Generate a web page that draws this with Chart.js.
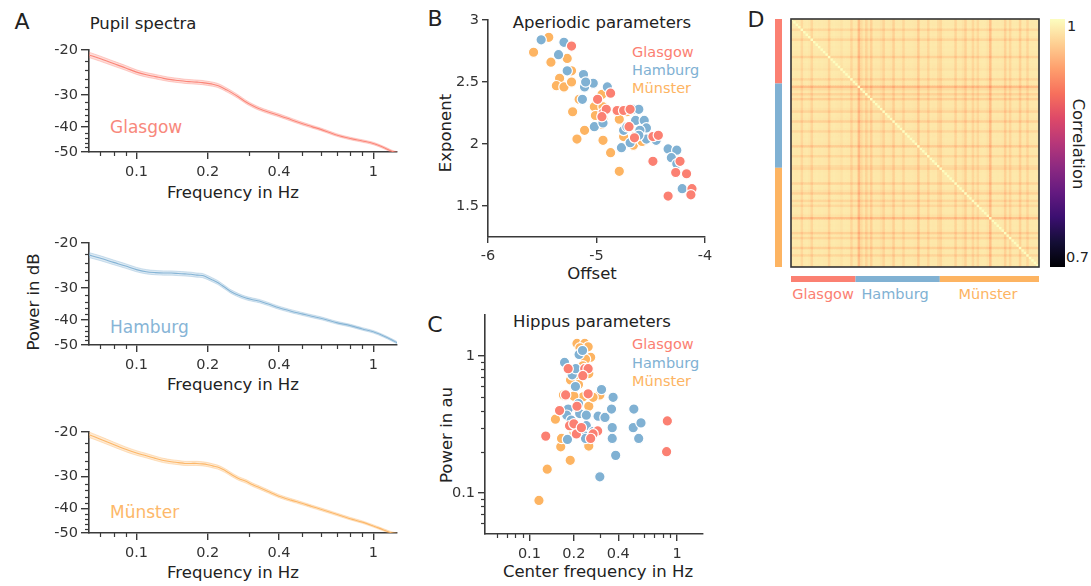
<!DOCTYPE html>
<html><head><meta charset="utf-8">
<script src="https://cdn.jsdelivr.net/npm/chart.js@4.4.1/dist/chart.umd.min.js"></script>
<style>
html,body{margin:0;padding:0;background:#fff;}
body{width:1091px;height:586px;position:relative;overflow:hidden;font-family:'DejaVu Sans',sans-serif;color:#222;}
.t{position:absolute;white-space:nowrap;transform:translate(-50%,-50%);line-height:1;}
.l{position:absolute;white-space:nowrap;transform:translate(0,-50%);line-height:1;}
.r1{position:absolute;white-space:nowrap;transform:translate(-50%,-50%) rotate(-90deg);line-height:1;}
.r2{position:absolute;white-space:nowrap;transform:translate(-50%,-50%) rotate(90deg);line-height:1;}
canvas{position:absolute;}
</style></head><body>

<div class="t" style="left:22px;top:22px;font-size:22px">A</div>
<div class="t" style="left:143px;top:24px;font-size:16.5px">Pupil spectra</div>
<div class="t" style="left:233px;top:193px;font-size:16.5px">Frequency in Hz</div>
<div class="t" style="left:233px;top:385px;font-size:16.5px">Frequency in Hz</div>
<div class="t" style="left:233px;top:573px;font-size:16.5px">Frequency in Hz</div>
<div class="r1" style="left:34px;top:302px;font-size:16.5px">Power in dB</div>
<div class="l" style="left:110px;top:127px;font-size:17px;color:#F8887C">Glasgow</div>
<div class="l" style="left:110px;top:327px;font-size:17px;color:#86B4D6">Hamburg</div>
<div class="l" style="left:110px;top:512px;font-size:17px;color:#FDB86A">Münster</div>

<div class="t" style="left:435px;top:19px;font-size:22px">B</div>
<div class="t" style="left:602px;top:23px;font-size:16.5px">Aperiodic parameters</div>
<div class="l" style="left:632px;top:52px;font-size:14.5px;color:#FB8072">Glasgow</div>
<div class="l" style="left:632px;top:70px;font-size:14.5px;color:#80B1D3">Hamburg</div>
<div class="l" style="left:632px;top:88px;font-size:14.5px;color:#FDB462">Münster</div>
<div class="r1" style="left:446px;top:133px;font-size:16.5px">Exponent</div>
<div class="t" style="left:592px;top:274px;font-size:16.5px">Offset</div>

<div class="t" style="left:435px;top:325px;font-size:22px">C</div>
<div class="t" style="left:592px;top:322px;font-size:16.5px">Hippus parameters</div>
<div class="l" style="left:632px;top:344px;font-size:14.5px;color:#FB8072">Glasgow</div>
<div class="l" style="left:632px;top:363px;font-size:14.5px;color:#80B1D3">Hamburg</div>
<div class="l" style="left:632px;top:381px;font-size:14.5px;color:#FDB462">Münster</div>
<div class="r1" style="left:447px;top:435px;font-size:16.5px">Power in au</div>
<div class="t" style="left:598px;top:572px;font-size:16.5px">Center frequency in Hz</div>

<div class="t" style="left:756px;top:20px;font-size:22px">D</div>
<div class="t" style="left:823px;top:294px;font-size:14.5px;color:#FB8072">Glasgow</div>
<div class="t" style="left:895px;top:294px;font-size:14.5px;color:#80B1D3">Hamburg</div>
<div class="t" style="left:988px;top:294px;font-size:14.5px;color:#FDB462">Münster</div>
<div class="l" style="left:1067px;top:26px;font-size:14.5px">1</div>
<div class="l" style="left:1066px;top:257px;font-size:14.5px">0.7</div>
<div class="r2" style="left:1078px;top:144px;font-size:16.5px">Correlation</div>

<script>
// ---------------- DATA ----------------
const siteNames = ['Glasgow', 'Hamburg', 'Münster'];
const siteColors = ['#FB8072', '#80B1D3', '#FDB462'];

// Panel A: pupil spectra (power in dB, mean across subjects)
const freqA = [0.063,0.07,0.08,0.09,0.1,0.11,0.12,0.13,0.14,0.15,0.16,0.17,0.18,0.19,0.2,0.21,0.22,0.23,0.24,0.25,0.27,0.29,0.31,0.33,0.36,0.4,0.45,0.5,0.55,0.6,0.7,0.8,0.9,1.0,1.1,1.2,1.26];
const glasgowDB  = [-20.9,-21.6,-22.6,-23.5,-24.4,-25.0,-25.4,-25.8,-26.1,-26.3,-26.5,-26.6,-26.7,-26.8,-27.0,-27.2,-27.5,-28.0,-28.6,-29.2,-30.5,-31.9,-33.0,-33.9,-34.9,-36.0,-37.4,-38.7,-39.8,-40.8,-42.9,-44.3,-45.3,-46.3,-47.9,-49.7,-50.4];
const hamburgDB  = [-22.3,-22.9,-23.8,-24.6,-25.4,-25.9,-26.1,-26.2,-26.2,-26.3,-26.4,-26.5,-26.7,-26.8,-27.3,-27.9,-28.5,-29.3,-30.1,-30.9,-32.0,-32.8,-33.3,-33.7,-34.6,-35.8,-36.9,-37.8,-38.6,-39.3,-40.9,-42.0,-43.3,-44.4,-46.0,-47.8,-49.0];
const muensterDB = [-20.5,-21.3,-22.4,-23.4,-24.2,-24.8,-25.4,-25.9,-26.2,-26.4,-26.6,-26.6,-26.6,-26.7,-26.9,-27.2,-27.5,-28.0,-28.6,-29.3,-30.5,-31.3,-32.3,-33.1,-34.3,-35.8,-37.1,-38.2,-39.3,-40.3,-42.2,-43.9,-45.3,-46.9,-48.5,-50.0,-50.5];
const BAND_DB = 0.5; // half-width of the shaded error band
const xTicksA = [0.1, 0.2, 0.4, 1];
const xTickLabelsA = ['0.1', '0.2', '0.4', '1'];
const xMinorA = [0.07, 0.08, 0.09, 0.3, 0.5, 0.6, 0.7, 0.8, 0.9];
const yTicksA = [-20, -30, -40, -50];
const yMinorA = [-22, -24, -26, -28, -32, -34, -36, -38, -42, -44, -46, -48];

// Panel B: aperiodic parameters [offset, exponent]
const aperGlasgow = [[-5.23,2.79],[-4.87,2.41],[-4.99,2.36],[-4.94,2.25],[-4.91,2.28],[-4.81,2.27],[-4.75,2.27],[-4.69,2.28],[-4.70,2.14],[-4.48,2.06],[-4.43,2.07],[-4.48,1.86],[-4.23,1.86],[-4.27,1.77],[-4.17,1.76],[-4.12,1.64],[-4.13,1.59],[-4.34,1.58],[-4.95,2.22],[-4.65,2.05]];
const aperHamburg = [[-5.51,2.84],[-5.30,2.82],[-5.35,2.72],[-5.27,2.59],[-5.12,2.56],[-5.11,2.46],[-5.03,2.49],[-5.13,2.36],[-4.90,2.46],[-5.02,2.14],[-4.66,2.28],[-4.61,2.28],[-4.64,2.19],[-4.56,2.19],[-4.54,2.13],[-4.75,2.11],[-4.77,1.97],[-4.69,2.01],[-4.54,2.04],[-4.45,2.03],[-4.34,1.96],[-4.26,1.95],[-4.31,1.89],[-4.26,1.84],[-4.21,1.64],[-4.72,2.14],[-4.60,2.11],[-4.61,2.07],[-5.10,2.50],[-4.94,2.17]];
const aperMuenster = [[-5.58,2.74],[-5.44,2.86],[-5.42,2.66],[-5.27,2.69],[-5.34,2.53],[-5.37,2.47],[-5.30,2.46],[-5.23,2.59],[-5.23,2.50],[-5.16,2.36],[-5.22,2.26],[-5.11,2.11],[-5.18,2.04],[-5.02,2.30],[-5.01,2.23],[-4.95,2.40],[-4.94,2.30],[-4.94,2.20],[-4.95,2.16],[-4.94,2.03],[-4.87,1.93],[-4.79,1.78],[-4.79,2.20],[-4.75,2.06],[-4.72,2.26],[-4.66,1.99],[-4.58,2.02],[-4.65,2.06]];
const xTicksB = [-6, -5, -4];
const yTicksB = [1.5, 2, 2.5, 3];

// Panel C: hippus parameters [center frequency Hz, power au]
const hipGlasgow = [[0.129,0.26],[0.16,0.40],[0.176,0.52],[0.183,0.81],[0.21,0.43],[0.237,0.81],[0.25,0.81],[0.208,0.27],[0.187,0.31],[0.29,0.284],[0.27,0.27],[0.86,0.336],[0.85,0.20],[0.25,0.53],[0.23,0.72],[0.2,0.32],[0.225,0.30],[0.26,0.25]];
const hipHamburg = [[0.173,0.90],[0.217,1.03],[0.229,1.10],[0.195,0.73],[0.205,0.60],[0.183,0.41],[0.179,0.37],[0.192,0.34],[0.181,0.246],[0.219,0.38],[0.243,0.37],[0.243,0.31],[0.233,0.264],[0.308,0.57],[0.292,0.364],[0.325,0.356],[0.369,0.50],[0.36,0.41],[0.364,0.30],[0.364,0.25],[0.384,0.188],[0.30,0.131],[0.51,0.41],[0.505,0.30],[0.57,0.325],[0.55,0.25],[0.206,0.81],[0.215,0.45],[0.24,0.25],[0.27,0.28],[0.2,0.30]];
const hipMuenster = [[0.116,0.088],[0.132,0.149],[0.150,0.346],[0.163,0.217],[0.189,0.173],[0.21,1.24],[0.237,1.24],[0.25,1.17],[0.22,1.15],[0.26,0.98],[0.2525,0.746],[0.231,0.504],[0.2525,0.43],[0.2525,0.22],[0.30,0.52],[0.328,0.36],[0.36,0.30],[0.2,0.70],[0.19,0.67],[0.17,0.52],[0.2,0.51],[0.215,0.62],[0.24,0.95],[0.23,0.85],[0.27,0.50],[0.165,0.25],[0.2,0.28]];
const xTicksC = [0.1, 0.2, 0.4, 1];
const xTickLabelsC = ['0.1', '0.2', '0.4', '1'];
const xMinorC = [0.06, 0.07, 0.08, 0.09, 0.3, 0.5, 0.6, 0.7, 0.8, 0.9];
const yTicksC = [0.1, 1];
const yTickLabelsC = ['0.1', '1'];
const yMinorC = [0.06, 0.07, 0.08, 0.09, 0.2, 0.3, 0.4, 0.5, 0.6, 0.7, 0.8, 0.9];

// Panel D: per-subject spectral similarity (read from stripe intensity), group sizes
const groupSizes = [26, 34, 40];
const subjectFit = [
 .994,.9937,.9933,.994,.983,.9933,.994,.992,.9815,.9933,.994,.993,.9937,.9927,.992,.980,.9933,.994,.993,.9923,.989,.9937,.9933,.9927,.9815,.993,
 .9923,.9665,.985,.992,.980,.991,.978,.9927,.992,.9923,.989,.980,.9927,.9923,.991,.978,.9927,.993,.992,.9815,.9927,.9923,.993,.992,.991,.9755,.9927,.9923,.992,.9815,.993,.9923,.9927,.985,
 .9815,.9923,.9933,.993,.9933,.9927,.980,.9933,.993,.989,.9785,.9933,.993,.9815,.9927,.983,.9933,.9937,.993,.989,.968,.993,.9933,.9927,.9933,.992,.9785,.9927,.9815,.993,.9933,.9927,.9785,.9933,.993,.9815,.9933,.993,.9937,.9927];
const CBAR_MIN = 0.7, CBAR_MAX = 1;

// ---------------- STYLE / HELPERS ----------------
const AX = '#3a3a3a';
const FONT = "'DejaVu Sans', sans-serif";
Chart.defaults.font.family = FONT;
Chart.defaults.color = '#333';
Chart.defaults.animation = false;
Chart.defaults.events = [];
Chart.defaults.plugins.legend.display = false;
Chart.defaults.plugins.tooltip.enabled = false;

function makeCanvas(box) {
  const c = document.createElement('canvas');
  c.width = box.w; c.height = box.h;
  c.style.left = box.l + 'px'; c.style.top = box.t + 'px';
  c.style.width = box.w + 'px'; c.style.height = box.h + 'px';
  document.body.appendChild(c);
  return c.getContext('2d');
}
function fixSize(size) {
  return s => {
    if (s.isHorizontal()) s.height = size; else s.width = size;
    s.paddingLeft = s.paddingRight = s.paddingTop = s.paddingBottom = 0;
  };
}
function layoutFor(box, plot) {
  return {
    padding: { left: 0, top: plot.t - box.t, right: box.l + box.w - plot.r, bottom: 0 },
    yW: plot.l - box.l, xH: box.t + box.h - plot.b
  };
}
const minorTicks = {
  id: 'minorTicks',
  afterDraw(chart, args, opts) {
    const ctx = chart.ctx;
    (opts.list || []).forEach(m => {
      const s = chart.scales[m.axis];
      ctx.save(); ctx.strokeStyle = AX; ctx.lineWidth = 1.2;
      m.values.forEach(v => {
        const p = Math.round(s.getPixelForValue(v)) + 0.5;
        ctx.beginPath();
        if (s.isHorizontal()) { ctx.moveTo(p, s.top); ctx.lineTo(p, s.top + m.len); }
        else { ctx.moveTo(s.right, p); ctx.lineTo(s.right - m.len, p); }
        ctx.stroke();
      });
      ctx.restore();
    });
  }
};
function axisBase(tickLen, pad, size) {
  return {
    border: { color: AX, width: 1.6 },
    grid: { drawOnChartArea: false, drawTicks: true, color: AX, lineWidth: 1.4, tickLength: tickLen },
    ticks: { autoSkip: false, maxRotation: 0, minRotation: 0, padding: pad, color: '#333', font: { size: 14.5 } },
    afterFit: fixSize(size)
  };
}
function hexToRgb(h) { return [1,3,5].map(i => parseInt(h.substr(i, 2), 16)); }
function rgba(h, a) { const c = hexToRgb(h); return `rgba(${c[0]},${c[1]},${c[2]},${a})`; }

// ---------------- PANEL A ----------------
function spectrum(box, plot, db, color) {
  const L = layoutFor(box, plot);
  const pts = (off) => freqA.map((f, i) => ({ x: f, y: -db[i] + off }));
  const x = axisBase(7, 5, L.xH);
  Object.assign(x, { type: 'logarithmic', min: 0.063, max: 1.26,
    afterBuildTicks: s => { s.ticks = xTicksA.map(v => ({ value: v })); } });
  x.ticks.callback = (v, i) => xTickLabelsA[i];
  const y = axisBase(8, 3, L.yW);
  Object.assign(y, { type: 'logarithmic', reverse: true, min: 20, max: 50,
    afterBuildTicks: s => { s.ticks = yTicksA.map(v => ({ value: -v })); } });
  y.ticks.callback = (v, i) => String(yTicksA[i]);
  new Chart(makeCanvas(box), {
    type: 'line',
    data: { datasets: [
      { data: pts(-BAND_DB), borderColor: rgba(color, 0.45), borderWidth: 0.8, backgroundColor: rgba(color, 0.28), fill: '+1', pointRadius: 0, tension: 0.3 },
      { data: pts(BAND_DB), borderColor: rgba(color, 0.45), borderWidth: 0.8, fill: false, pointRadius: 0, tension: 0.3 },
      { data: pts(0), borderColor: rgba(color, 0.95), borderWidth: 1.1, fill: false, pointRadius: 0, tension: 0.3 }
    ]},
    options: {
      responsive: false, devicePixelRatio: 1, layout: { padding: L.padding },
      scales: { x, y },
      plugins: { minorTicks: { list: [
        { axis: 'x', values: xMinorA, len: 4 },
        { axis: 'y', values: yMinorA.map(v => -v), len: 4 } ] } }
    },
    plugins: [minorTicks]
  });
}
spectrum({ l: 40, t: 40, w: 370, h: 142 }, { l: 89, t: 50, r: 397, b: 152 }, glasgowDB, siteColors[0]);
spectrum({ l: 40, t: 233, w: 370, h: 142 }, { l: 89, t: 243, r: 397, b: 345 }, hamburgDB, siteColors[1]);
spectrum({ l: 40, t: 422, w: 370, h: 141 }, { l: 89, t: 432, r: 397, b: 533 }, muensterDB, siteColors[2]);

// ---------------- PANEL B / C scatter ----------------
function scatterSets(groups) {
  return groups.map((g, k) => ({
    data: g.map(p => ({ x: p[0], y: p[1] })),
    backgroundColor: siteColors[k], borderColor: '#ffffff', borderWidth: 1.2,
    pointRadius: 5.2, showLine: false
  }));
}
(function () {
  const box = { l: 450, t: 10, w: 265, h: 260 }, plot = { l: 488, t: 20, r: 705, b: 237 };
  const L = layoutFor(box, plot);
  const x = axisBase(6, 5, L.xH);
  Object.assign(x, { type: 'linear', min: -6, max: -4,
    afterBuildTicks: s => { s.ticks = xTicksB.map(v => ({ value: v })); } });
  x.ticks.callback = (v) => String(v);
  const y = axisBase(6, 3, L.yW);
  Object.assign(y, { type: 'linear', min: 1.25, max: 3,
    afterBuildTicks: s => { s.ticks = yTicksB.map(v => ({ value: v })); } });
  y.ticks.callback = (v) => String(v);
  new Chart(makeCanvas(box), {
    type: 'scatter',
    data: { datasets: scatterSets([aperGlasgow, aperHamburg, aperMuenster]) },
    options: { responsive: false, devicePixelRatio: 1, layout: { padding: L.padding }, scales: { x, y },
      clip: false }
  });
})();
(function () {
  const box = { l: 450, t: 305, w: 265, h: 262 }, plot = { l: 485, t: 315, r: 703, b: 534 };
  const L = layoutFor(box, plot);
  const x = axisBase(7, 5, L.xH);
  Object.assign(x, { type: 'logarithmic', min: 0.05, max: 1.5,
    afterBuildTicks: s => { s.ticks = xTicksC.map(v => ({ value: v })); } });
  x.ticks.callback = (v, i) => xTickLabelsC[i];
  const y = axisBase(7, 3, L.yW);
  Object.assign(y, { type: 'logarithmic', min: 0.05, max: 2,
    afterBuildTicks: s => { s.ticks = yTicksC.map(v => ({ value: v })); } });
  y.ticks.callback = (v, i) => yTickLabelsC[i];
  new Chart(makeCanvas(box), {
    type: 'scatter',
    data: { datasets: scatterSets([hipGlasgow, hipHamburg, hipMuenster]) },
    options: { responsive: false, devicePixelRatio: 1, layout: { padding: L.padding }, scales: { x, y }, clip: false,
      plugins: { minorTicks: { list: [
        { axis: 'x', values: xMinorC, len: 4 }, { axis: 'y', values: yMinorC, len: 4 } ] } } },
    plugins: [minorTicks]
  });
})();

// ---------------- PANEL D heatmap ----------------
const MAGMA = ['#000004','#140e36','#3b0f70','#641a80','#8c2981','#b73779','#de4968','#f7705c','#fe9f6d','#fecf92','#fcfdbf'];
function magma(t) {
  t = Math.max(0, Math.min(1, t));
  const p = t * (MAGMA.length - 1), i = Math.min(Math.floor(p), MAGMA.length - 2), f = p - i;
  const a = hexToRgb(MAGMA[i]), b = hexToRgb(MAGMA[i + 1]);
  return `rgb(${a.map((v, k) => Math.round(v + (b[k] - v) * f)).join(',')})`;
}
(function () {
  const N = subjectFit.length;
  const cells = [];
  for (let i = 0; i < N; i++) for (let j = 0; j < N; j++)
    cells.push({ x: j, y: i, v: i === j ? 1 : subjectFit[i] * subjectFit[j] });
  const box = { l: 765, t: 10, w: 280, h: 280 }, plot = { l: 791, t: 19, r: 1039, b: 267 };
  const deco = {
    id: 'deco',
    afterDatasetsDraw(chart) {
      const { ctx, chartArea: a, scales: { x, y } } = chart;
      let start = 0;
      groupSizes.forEach((n, k) => {
        const p0 = y.getPixelForValue(start - 0.5), p1 = y.getPixelForValue(start + n - 0.5);
        const q0 = x.getPixelForValue(start - 0.5), q1 = x.getPixelForValue(start + n - 0.5);
        ctx.fillStyle = siteColors[k];
        ctx.fillRect(a.left - 16, p0, 7, p1 - p0);
        ctx.fillRect(q0, a.bottom + 9, q1 - q0, 6);
        start += n;
      });
      ctx.strokeStyle = '#333'; ctx.lineWidth = 1.6;
      ctx.strokeRect(a.left, a.top, a.right - a.left, a.bottom - a.top);
    }
  };
  new Chart(makeCanvas(box), {
    type: 'scatter',
    data: { datasets: [{ data: cells, pointStyle: 'rect', borderWidth: 0,
      backgroundColor: c => magma((c.raw.v - CBAR_MIN) / (CBAR_MAX - CBAR_MIN)),
      pointRadius: c => { const s = c.chart.scales.x; return (Math.abs(s.getPixelForValue(1) - s.getPixelForValue(0)) + 0.7) / Math.SQRT2; } }] },
    options: { responsive: false, devicePixelRatio: 1,
      layout: { padding: { left: plot.l - box.l, top: plot.t - box.t, right: box.l + box.w - plot.r, bottom: box.t + box.h - plot.b } },
      scales: { x: { type: 'linear', display: false, min: -0.5, max: N - 0.5 },
                y: { type: 'linear', display: false, min: -0.5, max: N - 0.5, reverse: true } } },
    plugins: [deco]
  });
})();
// colorbar
(function () {
  const box = { l: 1050, t: 19, w: 15, h: 248 };
  new Chart(makeCanvas(box), {
    type: 'bar',
    data: { labels: ['r'], datasets: [{ data: [[CBAR_MIN, CBAR_MAX]], barPercentage: 1, categoryPercentage: 1, borderWidth: 0,
      backgroundColor: c => {
        const a = c.chart.chartArea; if (!a) return '#fff';
        const g = c.chart.ctx.createLinearGradient(0, a.bottom, 0, a.top);
        MAGMA.forEach((h, i) => g.addColorStop(i / (MAGMA.length - 1), h));
        return g;
      } }] },
    options: { responsive: false, devicePixelRatio: 1, layout: { padding: 0 },
      scales: { x: { display: false }, y: { display: false, min: CBAR_MIN, max: CBAR_MAX } } }
  });
})();
</script>
</body></html>
